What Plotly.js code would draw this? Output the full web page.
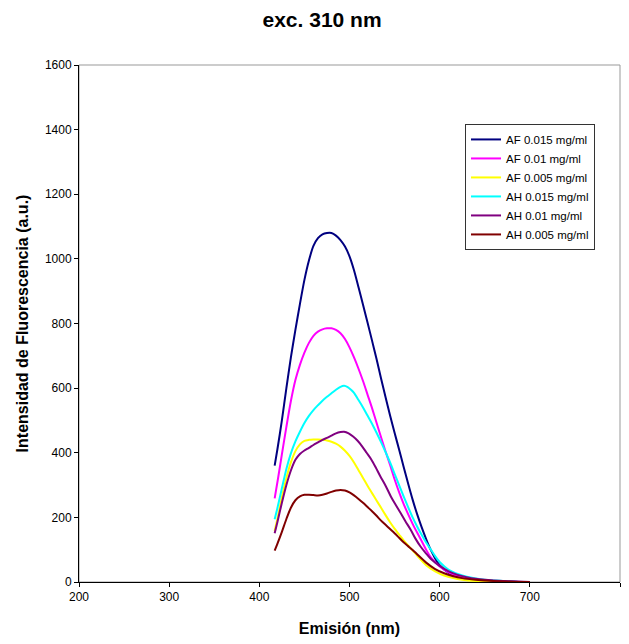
<!DOCTYPE html>
<html>
<head>
<meta charset="utf-8">
<script src="https://cdn.plot.ly/plotly-3.0.1.min.js"></script>
<style>
html,body{margin:0;padding:0;background:#fff;}
#chart{width:629px;height:644px;}
</style>
</head>
<body>
<div id="chart"></div>
<script>
// Series names
const seriesNames = ["AF 0.015 mg/ml","AF 0.01 mg/ml","AF 0.005 mg/ml","AH 0.015 mg/ml","AH 0.01 mg/ml","AH 0.005 mg/ml"];

// AF 0.015 mg/ml
const af015_x = [417,420,425,430,435,440,445,450,455,460,465,470,475,480,485,490,495,500,505,510,515,520,525,530,535,540,545,550,555,560,565,570,575,580,585,590,595,600,610,620,630,640,650,660,675,700];
const af015_y = [360,410,500,600,695,780,860,935,995,1040,1064,1076,1080,1080,1072,1058,1038,1008,965,912,858,803,747,690,630,572,515,462,410,357,305,255,210,170,133,100,73,52,28,17,11,7,5,3,1,0];

// AF 0.01 mg/ml
const af01_x = [417,421,425,430,435,440,445,450,455,460,465,470,475,480,485,490,495,500,505,510,515,520,525,530,535,540,545,550,555,560,565,570,575,580,585,590,600,610,620,630,640,650,660,680,690];
const af01_y = [259,325,395,480,560,625,672,710,740,762,775,782,785,785,780,770,752,726,695,660,622,580,538,493,448,404,362,318,278,242,210,180,153,127,100,77,48,30,18,11,7,4,2,1,0];

// AF 0.005 mg/ml
const af005_x = [417,420,425,430,435,440,445,450,455,460,465,470,475,480,485,490,495,500,505,510,515,520,525,530,535,540,545,550,555,560,565,570,575,585,595,605,615,625,640,655,668];
const af005_y = [158,195,262,322,370,405,426,437,440,441,441,440,438,434,428,419,406,390,370,346,322,298,275,252,230,207,185,165,147,129,113,98,82,52,33,20,12,7,3,1,0];

// AH 0.015 mg/ml
const ah015_x = [417,420,425,430,435,440,445,450,455,460,465,470,475,480,485,490,494,498,502,505,510,515,520,525,530,535,540,545,550,555,560,565,570,575,580,585,590,595,600,610,620,630,640,650,660,670,686];
const ah015_y = [194,228,290,350,398,435,465,492,514,532,547,561,573,584,595,604,607,603,594,585,563,540,515,490,462,433,402,370,335,300,265,232,200,172,146,122,101,80,62,38,25,16,11,7,5,3,1];

// AH 0.01 mg/ml
const ah01_x = [417,420,425,430,435,440,445,450,455,460,465,470,475,480,485,490,494,499,504,509,514,519,524,529,534,540,546,551,557,562,568,573,579,585,590,600,610,620,630,640,650,660,680,700];
const ah01_y = [151,185,245,300,345,378,396,407,415,424,432,440,446,453,460,464,465,460,450,437,420,400,380,355,328,298,264,240,212,188,161,135,109,88,72,50,33,22,15,10,7,5,2,0];

// AH 0.005 mg/ml
const ah005_x = [417,420,425,430,435,440,445,450,455,460,465,470,475,480,485,490,495,500,505,510,515,520,525,530,535,540,545,550,555,560,565,570,575,585,595,605,615,625,640,660,680,700];
const ah005_y = [97,118,155,195,230,253,265,270,270,269,268,270,274,279,283,285,283,277,268,257,245,232,219,205,190,177,164,151,137,123,111,99,86,60,40,27,18,12,7,3,1,0];

const xs = [af015_x, af01_x, af005_x, ah015_x, ah01_x, ah005_x];
const ys = [af015_y, af01_y, af005_y, ah015_y, ah01_y, ah005_y];
const colors = ["#000080","#FF00FF","#FFFF00","#00FFFF","#800080","#800000"];

const traces = seriesNames.map((n,i)=>({
  x: xs[i], y: ys[i], name: n, type: 'scatter', mode: 'lines',
  line: {color: colors[i], width: 2, shape: 'spline', smoothing: 0.8}
}));

const font = "Liberation Sans, Arial, sans-serif";
const layout = {
  width: 629, height: 644,
  margin: {l: 79, r: 9, t: 65, b: 62, pad: 0},
  paper_bgcolor: '#fff', plot_bgcolor: '#fff',
  font: {family: font, size: 12, color: '#000'},
  title: {text: '<b>exc. 310 nm</b>', font: {family: font, size: 21, color: '#000'},
          x: 0.512, xref: 'container', y: 0.969, yref: 'container', yanchor: 'middle'},
  xaxis: {
    range: [200, 800], dtick: 100, tick0: 200,
    showgrid: false, zeroline: false,
    showline: true, linecolor: '#000', linewidth: 1,
    ticks: 'outside', ticklen: 4, tickcolor: '#000',
    tickfont: {family: font, size: 12, color: '#000'},
    title: {text: '<b>Emisión (nm)</b>', font: {family: font, size: 16, color: '#000'}, standoff: 19}
  },
  yaxis: {
    range: [0, 1600], dtick: 200, tick0: 0,
    showgrid: false, zeroline: false,
    showline: true, linecolor: '#000', linewidth: 1,
    ticks: 'outside', ticklen: 4, tickcolor: '#000',
    tickfont: {family: font, size: 12, color: '#000'},
    title: {text: '<b>Intensidad de Fluorescencia (a.u.)</b>', font: {family: font, size: 16, color: '#000'}, standoff: 12}
  },
  shapes: [{type: 'rect', xref: 'paper', yref: 'paper', x0: 0, x1: 1, y0: 0, y1: 1,
            line: {color: '#999', width: 1}, layer: 'below'}],
  legend: {
    x: 0.7135, y: 0.886, xanchor: 'left', yanchor: 'top',
    bgcolor: '#fff', bordercolor: '#333', borderwidth: 1,
    font: {family: font, size: 11.5, color: '#000'},
    itemwidth: 30, tracegroupgap: 0
  },
  showlegend: true
};

Plotly.newPlot('chart', traces, layout, {staticPlot: true, displayModeBar: false});
</script>
</body>
</html>
